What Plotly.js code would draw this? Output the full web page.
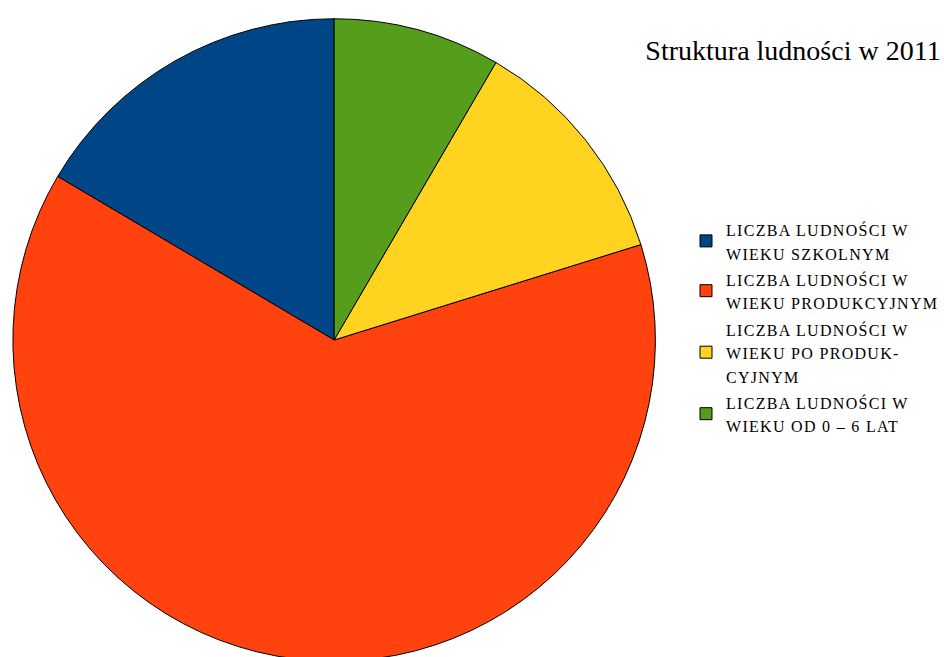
<!DOCTYPE html>
<html>
<head>
<meta charset="utf-8">
<script src="https://cdn.plot.ly/plotly-3.0.1.min.js"></script>
<style>
html,body{margin:0;padding:0;overflow:hidden;background:#fff;}
#chart{width:944px;height:680px;}
</style>
</head>
<body>
<div id="chart"></div>
<script>
const categories = [
  "LICZBA LUDNOŚCI W<br>WIEKU SZKOLNYM",
  "LICZBA LUDNOŚCI W<br>WIEKU PRODUKCYJNYM",
  "LICZBA LUDNOŚCI W<br>WIEKU PO PRODUK-<br>CYJNYM",
  "LICZBA LUDNOŚCI W<br>WIEKU OD 0 – 6 LAT"
];
const values = [16.5, 63.3, 11.8, 8.4];
const colors = ["#004586", "#ff420e", "#ffd320", "#579d1c"];
const titleText = "Struktura ludności w 2011";

const W = 944, H = 680;
const total = values.reduce((a, b) => a + b, 0);
const spanStyle = 'font-family:Liberation Serif,serif;font-size:16px;letter-spacing:1.3px';
const trace = {
  type: "pie",
  labels: categories.map(c => c.split('<br>').map(l => '<span style="' + spanStyle + '">' + l + '</span>').join('<br>')),
  values: values,
  sort: false,
  direction: "counterclockwise",
  rotation: -360 * values[0] / total,
  textinfo: "none",
  hoverinfo: "label+percent",
  marker: {colors: colors, line: {color: "#000000", width: 1}},
  domain: {x: [13/W, 661/W], y: [0, 1]}
};
const layout = {
  width: W, height: H,
  margin: {l: 0, r: 0, t: 15, b: 15},
  paper_bgcolor: "#ffffff",
  font: {family: "Liberation Serif, Times New Roman, serif", color: "#000"},
  title: {
    text: titleText,
    font: {family: "Liberation Serif, serif", size: 28, color: "#000"},
    xref: "container", yref: "container",
    x: 793/W, xanchor: "center",
    y: 1 - 50/H, yanchor: "middle"
  },
  showlegend: true,
  legend: {
    x: 692/W, xanchor: "left",
    y: 1 - (211-15)/(H-30), yanchor: "top",
    font: {family: "Liberation Serif, serif", size: 18, color: "#000"},
    bgcolor: "rgba(0,0,0,0)"
  }
};
Plotly.newPlot("chart", [trace], layout, {displayModeBar: false, staticPlot: true});
</script>
</body>
</html>
